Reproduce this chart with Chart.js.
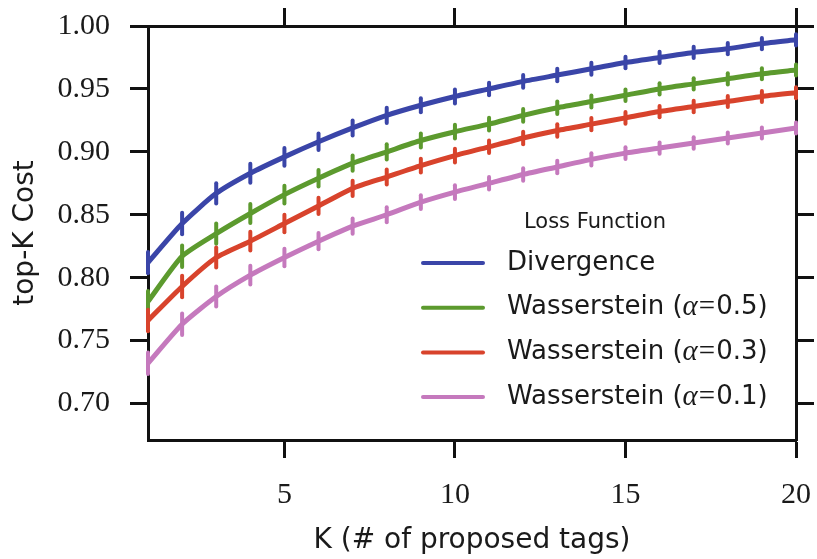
<!DOCTYPE html>
<html>
<head>
<meta charset="utf-8">
<script src="https://cdn.jsdelivr.net/npm/chart.js@4"></script>
<style>
  html, body { margin: 0; padding: 0; background: #fff; }
  #wrap { width: 817px; height: 559px; }
</style>
</head>
<body>
<div id="wrap"><canvas id="chart" width="817" height="559"></canvas></div>
<script>
// K values and tick labels
const kValues = [1, 2, 3, 4, 5, 6, 7, 8, 9, 10, 11, 12, 13, 14, 15, 16, 17, 18, 19, 20];
const xTicks = [5, 10, 15, 20];
const yTicks = [0.70, 0.75, 0.80, 0.85, 0.90, 0.95, 1.00];

// top-K cost per loss function
const divergence = [0.812, 0.843, 0.867, 0.883, 0.896, 0.908, 0.919, 0.929, 0.937, 0.944,
                    0.950, 0.956, 0.961, 0.966, 0.971, 0.975, 0.979, 0.982, 0.986, 0.989];
const wass05 = [0.781, 0.817, 0.835, 0.851, 0.866, 0.879, 0.891, 0.900, 0.909, 0.916,
                0.922, 0.929, 0.935, 0.940, 0.945, 0.950, 0.954, 0.958, 0.962, 0.965];
const wass03 = [0.766, 0.793, 0.816, 0.829, 0.843, 0.857, 0.871, 0.880, 0.889, 0.897,
                0.904, 0.911, 0.917, 0.922, 0.927, 0.932, 0.936, 0.940, 0.944, 0.947];
const wass01 = [0.732, 0.763, 0.785, 0.802, 0.816, 0.829, 0.841, 0.850, 0.860, 0.868,
                0.875, 0.882, 0.888, 0.894, 0.899, 0.903, 0.907, 0.911, 0.915, 0.919];

// half-width of the error bars
const errHalf = [0.0085, 0.0085, 0.008, 0.0075, 0.007, 0.0065, 0.006, 0.006, 0.0055, 0.0055,
                 0.005, 0.005, 0.005, 0.0048, 0.0046, 0.0045, 0.0045, 0.0044, 0.0044, 0.0044];

const seriesNames = ['Divergence', 'Wasserstein (\u03b1=0.5)', 'Wasserstein (\u03b1=0.3)', 'Wasserstein (\u03b1=0.1)'];
const seriesValues = [divergence, wass05, wass03, wass01];
const seriesColors = ['#3a45a8', '#5c9a2e', '#d8432c', '#c579bd'];

const ink = '#1a1a1a';
const sansFont = 'DejaVu Sans';
const serifFont = 'Liberation Serif';

// error bars drawn through the scales
const errorBars = {
    id: 'errorBars',
    afterDatasetsDraw(chart) {
        const ctx = chart.ctx;
        const xs = chart.scales.x, ys = chart.scales.y;
        ctx.save();
        ctx.lineCap = 'round';
        chart.data.datasets.forEach((ds, i) => {
            ctx.strokeStyle = ds.borderColor;
            ctx.lineWidth = 4;
            ds.data.forEach((p, j) => {
                const px = xs.getPixelForValue(p.x);
                ctx.beginPath();
                ctx.moveTo(px, ys.getPixelForValue(p.y - errHalf[j]));
                ctx.lineTo(px, ys.getPixelForValue(p.y + errHalf[j]));
                ctx.stroke();
            });
        });
        ctx.restore();
    }
};

// legend inside the plot, lower right
const innerLegend = {
    id: 'innerLegend',
    afterDraw(chart) {
        const ctx = chart.ctx;
        ctx.save();
        ctx.fillStyle = ink;
        ctx.textBaseline = 'middle';
        ctx.textAlign = 'center';
        ctx.font = '21px "' + sansFont + '"';
        ctx.fillText('Loss Function', 595, 223);
        ctx.textAlign = 'left';
        chart.data.datasets.forEach((ds, i) => {
            const y = 263 + i * 44.7;
            ctx.strokeStyle = ds.borderColor;
            ctx.lineWidth = 4;
            ctx.lineCap = 'round';
            ctx.beginPath();
            ctx.moveTo(423, y);
            ctx.lineTo(483, y);
            ctx.stroke();
            const label = ds.label;
            const a = label.indexOf('\u03b1');
            ctx.fillStyle = ink;
            if (a < 0) {
                ctx.font = '26px "' + sansFont + '"';
                ctx.fillText(label, 507, y);
            } else {
                let x = 507;
                ctx.font = '26px "' + sansFont + '"';
                const pre = label.slice(0, a);
                ctx.fillText(pre, x, y);
                x += ctx.measureText(pre).width;
                ctx.font = 'italic 29px "' + serifFont + '"';
                ctx.fillText('\u03b1', x, y);
                x += ctx.measureText('\u03b1').width + 1;
                ctx.font = '29px "' + serifFont + '"';
                ctx.fillText('=', x, y);
                x += ctx.measureText('=').width + 1;
                ctx.font = '26px "' + sansFont + '"';
                ctx.fillText(label.slice(a + 2), x, y);
            }
        });
        ctx.restore();
    }
};

const tickGrid = {
    display: true,
    drawOnChartArea: false,
    drawTicks: true,
    tickLength: 18,
    tickWidth: 3,
    tickColor: '#111'
};
const axisBorder = { display: true, color: '#111', width: 3 };

// fixed axis sizes, no label overhang padding
function fixSize(size) {
    return s => {
        if (s.isHorizontal()) s.height = size; else s.width = size;
        s.paddingLeft = 0; s.paddingRight = 0;
        s.paddingTop = 0; s.paddingBottom = 0;
    };
}

new Chart(document.getElementById('chart'), {
    type: 'line',
    data: {
        datasets: seriesValues.map((vals, i) => ({
            label: seriesNames[i],
            data: kValues.map((k, j) => ({ x: k, y: vals[j] })),
            borderColor: seriesColors[i],
            backgroundColor: seriesColors[i],
            borderWidth: 5,
            pointRadius: 0,
            tension: 0.2,
            fill: false
        }))
    },
    options: {
        responsive: false,
        animation: false,
        layout: { padding: 0 },
        plugins: {
            legend: { display: false },
            tooltip: { enabled: false }
        },
        scales: {
            x: {
                type: 'linear',
                position: 'bottom',
                min: 1,
                max: 20,
                afterBuildTicks: s => { s.ticks = xTicks.map(v => ({ value: v })); },
                afterFit: fixSize(119),
                ticks: {
                    padding: 19,
                    color: ink,
                    font: { family: serifFont, size: 30 },
                    callback: v => String(v)
                },
                grid: tickGrid,
                border: axisBorder,
                title: {
                    display: true,
                    text: 'K (# of proposed tags)',
                    color: ink,
                    font: { family: sansFont, size: 28 },
                    padding: { top: 0, bottom: 1 }
                }
            },
            x2: {
                type: 'linear',
                position: 'top',
                min: 1,
                max: 20,
                afterBuildTicks: s => { s.ticks = xTicks.map(v => ({ value: v })); },
                afterFit: fixSize(26),
                ticks: { display: false },
                grid: tickGrid,
                border: axisBorder
            },
            y: {
                type: 'linear',
                position: 'left',
                min: 0.671,
                max: 1.0,
                afterBuildTicks: s => { s.ticks = yTicks.map(v => ({ value: v })); },
                afterFit: fixSize(148),
                ticks: {
                    padding: 20,
                    color: ink,
                    font: { family: serifFont, size: 30 },
                    callback: v => v.toFixed(2)
                },
                grid: tickGrid,
                border: axisBorder,
                title: {
                    display: true,
                    text: 'top-K Cost',
                    color: ink,
                    font: { family: sansFont, size: 28 },
                    padding: { top: 9, bottom: 0 }
                }
            },
            y2: {
                type: 'linear',
                position: 'right',
                min: 0.671,
                max: 1.0,
                afterBuildTicks: s => { s.ticks = yTicks.map(v => ({ value: v })); },
                afterFit: fixSize(21),
                ticks: { display: false },
                grid: tickGrid,
                border: axisBorder
            }
        }
    },
    plugins: [errorBars, innerLegend]
});
</script>
</body>
</html>
